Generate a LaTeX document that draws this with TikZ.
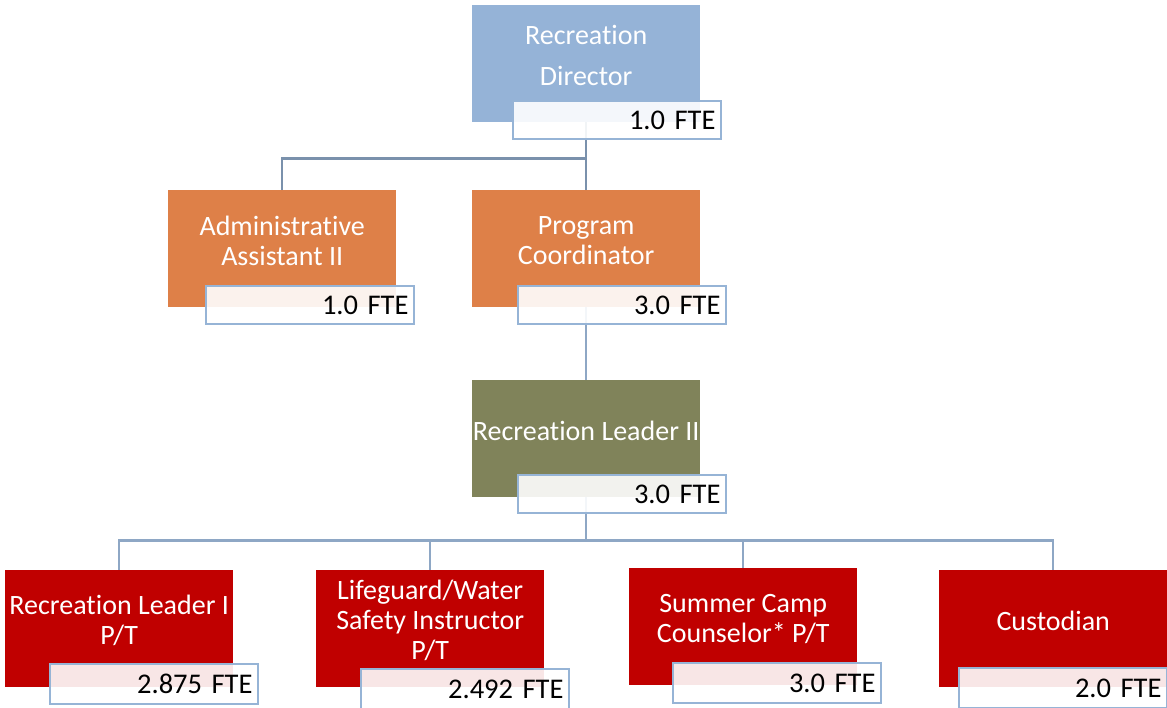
\documentclass[tikz,border=0pt]{standalone}
\usepackage{fontspec}
\setmainfont{Carlito}[Ligatures=NoCommon]
\usepackage{tikz}
\usetikzlibrary{positioning,calc}
\definecolor{dirblue}{RGB}{149,179,215}
\definecolor{admorange}{RGB}{222,128,72}
\definecolor{leadolive}{RGB}{128,131,90}
\definecolor{staffred}{RGB}{192,0,0}
\definecolor{ftebord}{RGB}{150,180,214}
\definecolor{linkblue}{RGB}{142,167,197}
\definecolor{linkdark}{RGB}{122,145,172}
\tikzset{
  orgbox/.style={anchor=north west,minimum width=228pt,minimum height=117pt,inner sep=0pt},
  orgtitle/.style={text=white,align=center,yshift=8pt,font=\fontsize{28}{30}\selectfont},
  ftebox/.style={anchor=north west,draw=ftebord,line width=2pt,fill=white,fill opacity=0.9,text opacity=1,
    text width=197pt,align=right,inner xsep=5.5pt,inner ysep=0pt,minimum height=38pt,font=\fontsize{28.5}{30}\selectfont},
  orglink/.style={draw=linkblue,line width=2.2pt},
  orglinkd/.style={draw=linkdark,line width=2.2pt}
}

\begin{document}
\begin{tikzpicture}[x=1pt,y=-1pt]
  \clip (0,0) rectangle (1167,707);
  \node[orgbox,fill=dirblue] (dir) at (472,5) {};
  \node[orgbox,fill=admorange] (adm) at (168,190) {};
  \node[orgbox,fill=admorange] (prog) at (472,190) {};
  \node[orgbox,fill=leadolive] (lead2) at (472,380) {};
  \node[orgbox,fill=staffred] (rl1) at (5,570) {};
  \node[orgbox,fill=staffred] (life) at (316,570) {};
  \node[orgbox,fill=staffred] (camp) at (629,568) {};
  \node[orgbox,fill=staffred] (cust) at (939,570) {};
  \node[orgtitle] (dirT) at (dir) {Recreation\\[11pt]Director};
  \node[orgtitle] (admT) at (adm) {Administrative\\Assistant II};
  \node[orgtitle] (progT) at (prog) {Program\\Coordinator};
  \node[orgtitle] (lead2T) at (lead2) {Recreation Leader II};
  \node[orgtitle] (rl1T) at (rl1) {Recreation Leader I\\P/T};
  \node[orgtitle] (lifeT) at (life) {Lifeguard/Water\\Safety Instructor\\P/T};
  \node[orgtitle] (campT) at (camp) {Summer Camp\\Counselor* P/T};
  \node[orgtitle] (custT) at (cust) {Custodian};
  \draw[orglinkd] (dir.south) -- ++(0,36) -| (adm.north);
  \draw[orglinkd] (dir.south) -- (prog.north);
  \draw[orglink] (prog.south) -- (lead2.north);
  \foreach \n in {rl1,life,camp,cust}
    \draw[orglink] (lead2.south) -- ++(0,43) -| (\n.north);
  \node[ftebox] (dirF) at (512,100) {1.0 FTE};
  \node[ftebox] (admF) at (205,285) {1.0 FTE};
  \node[ftebox] (progF) at (517,285) {3.0 FTE};
  \node[ftebox] (lead2F) at (517,474) {3.0 FTE};
  \node[ftebox,minimum height=40pt] (rl1F) at (49,663) {2.875 FTE};
  \node[ftebox,minimum height=40pt] (lifeF) at (360,668) {2.492 FTE};
  \node[ftebox,minimum height=40pt] (campF) at (672,662) {3.0 FTE};
  \node[ftebox,minimum height=40pt] (custF) at (958,667) {2.0 FTE};
\end{tikzpicture}
\end{document}
